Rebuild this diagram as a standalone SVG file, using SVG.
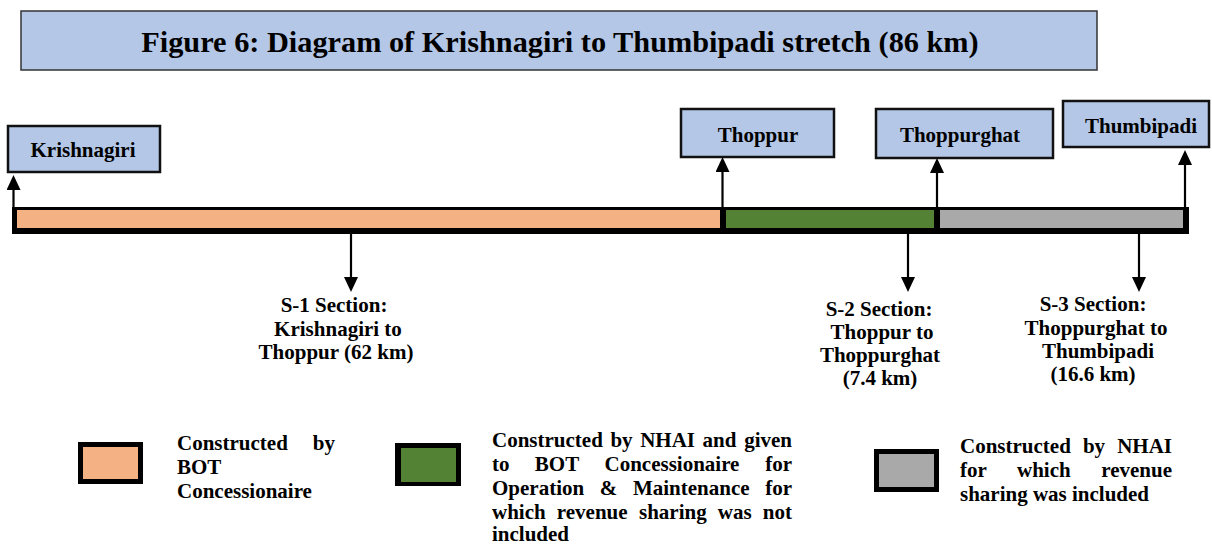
<svg xmlns="http://www.w3.org/2000/svg" width="1212" height="546" viewBox="0 0 1212 546">
<style>
text{font-family:"Liberation Serif","Times New Roman",serif;font-weight:bold;fill:#000}
.title{font-size:30.3px}
.lbl{font-size:21px}
.node{fill:#b4c7e7;stroke:#111;stroke-width:2.5}
.conn{stroke:#000;stroke-width:2.2;fill:none;marker-end:url(#ah)}
.c{text-anchor:middle}
.e{text-anchor:end}
</style>
<defs>
<marker id="ah" viewBox="0 0 15 14" refX="0" refY="7" markerWidth="15" markerHeight="14" markerUnits="userSpaceOnUse" orient="auto">
<path d="M0,0 L15,7 L0,14 z" fill="#000"/>
</marker>
</defs>
<rect width="1212" height="546" fill="#fff"/>

<g id="title">
<rect x="21" y="11" width="1076" height="59" fill="#b4c7e7" stroke="#333" stroke-width="1.5"/>
<text class="title c" x="560" y="52">Figure 6: Diagram of Krishnagiri to Thumbipadi stretch (86 km)</text>
</g>

<g id="bar">
<rect x="12" y="207" width="1177" height="27" fill="#000"/>
<rect x="17" y="210" width="703" height="18" fill="#f4b183"/>
<rect x="726" y="210" width="208" height="18" fill="#548235"/>
<rect x="940" y="210" width="243" height="18" fill="#a9a9a9"/>
</g>

<g id="node-krishnagiri">
<rect class="node" x="8" y="126" width="152" height="46"/>
<text class="lbl c" x="83" y="157">Krishnagiri</text>
</g>
<g id="node-thoppur">
<rect class="node" x="681" y="109" width="153" height="48"/>
<text class="lbl c" x="758" y="142">Thoppur</text>
</g>
<g id="node-thoppurghat">
<rect class="node" x="876" y="109" width="177" height="49"/>
<text class="lbl c" x="960" y="142">Thoppurghat</text>
</g>
<g id="node-thumbipadi">
<rect class="node" x="1063" y="101" width="146" height="46"/>
<text class="lbl c" x="1141" y="133">Thumbipadi</text>
</g>

<g id="connectors">
<line class="conn" x1="13.5" y1="207" x2="13.5" y2="190"/>
<line class="conn" x1="722.5" y1="207" x2="722.5" y2="172"/>
<line class="conn" x1="937" y1="207" x2="937" y2="173"/>
<line class="conn" x1="1185" y1="207" x2="1185" y2="165"/>
<line class="conn" x1="351" y1="234" x2="351" y2="277"/>
<line class="conn" x1="908" y1="234" x2="908" y2="277"/>
<line class="conn" x1="1139" y1="234" x2="1139" y2="277"/>
</g>

<g id="s1-label">
<text class="lbl c" x="334" y="312">S-1 Section:</text>
<text class="lbl c" x="338" y="336">Krishnagiri to</text>
<text class="lbl c" x="336" y="359">Thoppur (62 km)</text>
</g>
<g id="s2-label">
<text class="lbl c" x="879" y="316">S-2 Section:</text>
<text class="lbl c" x="882" y="339">Thoppur to</text>
<text class="lbl c" x="880" y="362">Thoppurghat</text>
<text class="lbl c" x="880" y="385">(7.4 km)</text>
</g>
<g id="s3-label">
<text class="lbl c" x="1093" y="311">S-3 Section:</text>
<text class="lbl c" x="1096" y="335">Thoppurghat to</text>
<text class="lbl c" x="1098" y="358">Thumbipadi</text>
<text class="lbl c" x="1093" y="381">(16.6 km)</text>
</g>

<g id="legend-bot">
<rect x="78" y="442" width="65" height="42" fill="#000"/>
<rect x="83" y="447" width="55" height="32" fill="#f4b183"/>
<text class="lbl" x="177" y="450">Constructed</text>
<text class="lbl e" x="335" y="450">by</text>
<text class="lbl" x="177" y="474">BOT</text>
<text class="lbl" x="177" y="498">Concessionaire</text>
</g>
<g id="legend-nhai-om">
<rect x="395" y="443" width="66" height="43" fill="#000"/>
<rect x="401" y="448" width="55" height="34" fill="#548235"/>
<text class="lbl" y="447"><tspan x="492">Constructed</tspan><tspan x="610.4">by</tspan><tspan x="640.2">NHAI</tspan><tspan x="702.6">and</tspan></text>
<text class="lbl e" x="792" y="447">given</text>
<text class="lbl" y="471"><tspan x="492">to</tspan><tspan x="534.8">BOT</tspan><tspan x="604.5">Concessionaire</tspan></text>
<text class="lbl e" x="792" y="471">for</text>
<text class="lbl" y="495"><tspan x="492">Operation</tspan><tspan x="599.8">&amp;</tspan><tspan x="632.9">Maintenance</tspan></text>
<text class="lbl e" x="792" y="495">for</text>
<text class="lbl" y="519"><tspan x="492">which</tspan><tspan x="556.8">revenue</tspan><tspan x="639">sharing</tspan><tspan x="717.8">was</tspan></text>
<text class="lbl e" x="792" y="519">not</text>
<text class="lbl" x="492" y="541">included</text>
</g>
<g id="legend-nhai-rev">
<rect x="874" y="449" width="65" height="43" fill="#000"/>
<rect x="879" y="454" width="55" height="33" fill="#a9a9a9"/>
<text class="lbl" y="453"><tspan x="960">Constructed</tspan><tspan x="1082.9">by</tspan></text>
<text class="lbl e" x="1172" y="453">NHAI</text>
<text class="lbl" y="477"><tspan x="960">for</tspan><tspan x="1017">which</tspan></text>
<text class="lbl e" x="1172" y="477">revenue</text>
<text class="lbl" x="960" y="501">sharing was included</text>
</g>
</svg>
